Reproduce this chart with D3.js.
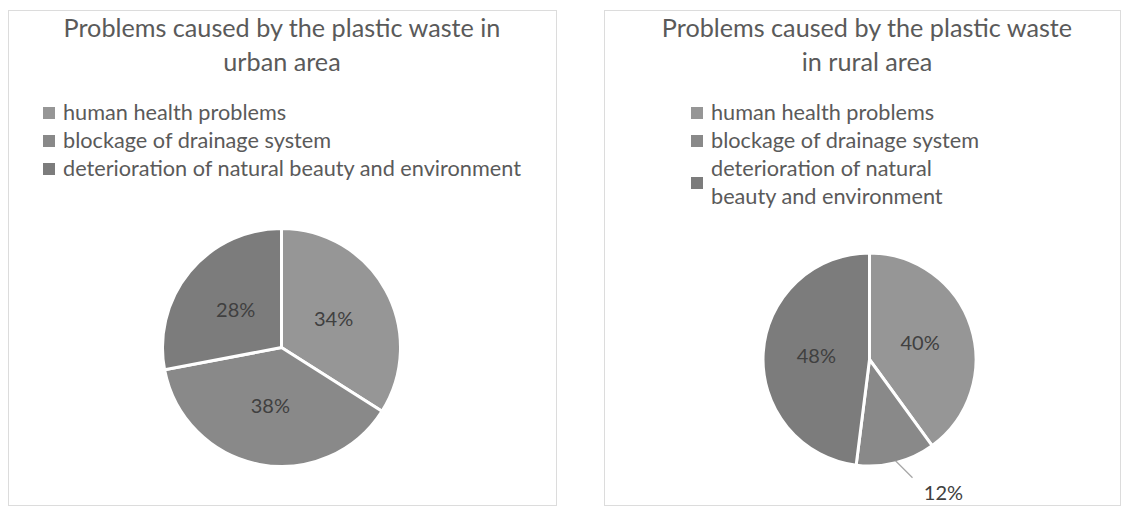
<!DOCTYPE html>
<html><head><meta charset="utf-8">
<script src="https://cdn.jsdelivr.net/npm/d3@7"></script>
<style>body{margin:0;background:#fff;} svg{display:block;} text{font-family:Lato,"Open Sans",sans-serif;}</style>
</head><body>
<svg id="c" width="1133" height="508"></svg>
<script>
const categories = ["human health problems","blockage of drainage system","deterioration of natural beauty and environment"];
const urbanValues = [34, 38, 28];
const ruralValues = [40, 12, 48];
const urbanTitle = ["Problems caused by the plastic waste in","urban area"];
const ruralTitle = ["Problems caused by the plastic waste","in rural area"];
const ruralLegendLines = [["human health problems"],["blockage of drainage system"],["deterioration of natural","beauty and environment"]];
const urbanLegendLines = categories.map(c=>[c]);
const colors = ["#969696","#898989","#7c7c7c"];

const svg = d3.select("#c");
const color = d3.scaleOrdinal().domain(categories).range(colors);

function chart(o){
  const g = svg.append("g");
  g.append("rect").attr("x",o.box[0]+0.5).attr("y",o.box[1]+0.5).attr("width",o.box[2]).attr("height",o.box[3])
   .attr("fill","#fff").attr("stroke","#dcdcdc");
  o.title.forEach((t,i)=>g.append("text").attr("x",o.tx).attr("y",37+i*34).attr("text-anchor","middle")
    .attr("font-size",25.2).attr("fill","#5a5a5a").text(t));
  let y = o.ly;
  o.legend.forEach((lines,i)=>{
    const h = lines.length;
    const sy = y + (h-1)*14;
    g.append("rect").attr("x",o.lx).attr("y",sy-13).attr("width",12).attr("height",12).attr("fill",color(categories[i]));
    lines.forEach((l,j)=>g.append("text").attr("x",o.lx+20).attr("y",y+j*28).attr("font-size",21.7).attr("fill","#5a5a5a").text(l));
    y += 28*h;
  });
  const data = categories.map((c,i)=>({c,v:o.values[i]}));
  const pie = d3.pie().sort(null).value(d=>d.v);
  const arcs = pie(data);
  const arc = d3.arc().innerRadius(0).outerRadius(o.r);
  const pg = g.append("g").attr("transform",`translate(${o.cx},${o.cy})`);
  pg.selectAll("path").data(arcs).join("path").attr("d",arc).attr("fill",d=>color(d.data.c))
    .attr("stroke","#fff").attr("stroke-width",3).attr("stroke-linejoin","miter");
  const lab = d3.arc().innerRadius(o.r*0.5).outerRadius(o.r*0.5);
  arcs.forEach((d,i)=>{
    if(o.outside && o.outside[i]){
      const a = (d.startAngle+d.endAngle)/2;
      const p1 = [Math.sin(a)*(o.r-2), -Math.cos(a)*(o.r-2)];
      const p2 = [p1[0]+17, p1[1]+17];
      pg.append("line").attr("x1",p1[0]).attr("y1",p1[1]).attr("x2",p2[0]).attr("y2",p2[1]).attr("stroke","#a6a6a6").attr("stroke-width",1.2);
      pg.append("text").attr("x",p2[0]+31).attr("y",p2[1]+22).attr("text-anchor","middle").attr("font-size",20).attr("fill","#404040").text(d.data.v+"%");
    } else {
      const c = lab.centroid(d);
      pg.append("text").attr("x",c[0]).attr("y",c[1]+7).attr("text-anchor","middle").attr("font-size",20).attr("fill","#404040").text(d.data.v+"%");
    }
  });
}

chart({box:[8,10,548,495], tx:282, title:urbanTitle, legend:urbanLegendLines, lx:43, ly:120,
  values:urbanValues, cx:281.5, cy:347.5, r:119});
chart({box:[604,10,516,495], tx:867, title:ruralTitle, legend:ruralLegendLines, lx:691, ly:120,
  values:ruralValues, cx:869.5, cy:359.5, r:106.5, outside:[false,true,false]});
</script>
</body></html>
